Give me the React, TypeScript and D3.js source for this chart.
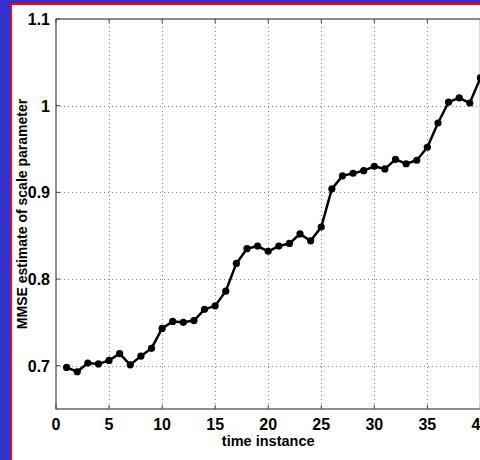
import React, { useEffect, useRef } from "react"
import * as d3 from "d3"

// time instances 1..40 and the MMSE estimates
const timeInstances = [
  1, 2, 3, 4, 5, 6, 7, 8, 9, 10, 11, 12, 13, 14, 15, 16, 17, 18, 19, 20,
  21, 22, 23, 24, 25, 26, 27, 28, 29, 30, 31, 32, 33, 34, 35, 36, 37, 38, 39, 40,
]
const mmseValues = [
  0.698, 0.693, 0.703, 0.702, 0.706, 0.714, 0.701, 0.711, 0.72, 0.743,
  0.751, 0.75, 0.752, 0.765, 0.769, 0.786, 0.818, 0.835, 0.838, 0.832,
  0.838, 0.841, 0.852, 0.844, 0.86, 0.904, 0.919, 0.922, 0.925, 0.93,
  0.927, 0.938, 0.933, 0.937, 0.952, 0.98, 1.004, 1.009, 1.003, 1.032,
]
const xTicks = [0, 5, 10, 15, 20, 25, 30, 35, 40]
const yTicks = [0.7, 0.8, 0.9, 1, 1.1]

const W = 480
const H = 460

export default function App() {
  const ref = useRef<SVGSVGElement>(null)

  useEffect(() => {
    const svg = d3.select(ref.current)
    svg.selectAll("*").remove()

    // frame: blue background, red border, white canvas
    svg.append("rect").attr("width", W).attr("height", H).attr("fill", "#3333cc")
    svg.append("rect")
      .attr("x", 11).attr("y", 4)
      .attr("width", W + 20).attr("height", H + 20)
      .attr("fill", "#ffffff")
      .attr("stroke", "#ff0000")
      .attr("stroke-width", 2)

    const left = 56, right = 480.4, top = 19, bottom = 409
    const x = d3.scaleLinear().domain([0, 40]).range([left, right])
    const y = d3.scaleLinear().domain([0.65, 1.1]).range([bottom, top])

    const font = "'Liberation Sans', Arial, Helvetica, sans-serif"

    // dotted grid
    const grid = svg.append("g")
      .attr("stroke", "#888")
      .attr("stroke-width", 1)
      .attr("stroke-dasharray", "1,3")
    grid.selectAll("line.gx")
      .data(xTicks.slice(1, -1))
      .enter().append("line")
      .attr("x1", d => Math.round(x(d)) + 0.5)
      .attr("x2", d => Math.round(x(d)) + 0.5)
      .attr("y1", top).attr("y2", bottom)
    grid.selectAll("line.gy")
      .data(yTicks.slice(0, -1))
      .enter().append("line")
      .attr("class", "gy")
      .attr("x1", left).attr("x2", right)
      .attr("y1", d => Math.round(y(d)) + 0.5)
      .attr("y2", d => Math.round(y(d)) + 0.5)

    // box
    svg.append("rect")
      .attr("x", left).attr("y", top)
      .attr("width", right - left).attr("height", bottom - top)
      .attr("fill", "none")
      .attr("stroke", "#444")
      .attr("stroke-width", 1.2)

    // inward tick marks
    const ticks = svg.append("g").attr("stroke", "#444").attr("stroke-width", 1)
    xTicks.forEach(t => {
      ticks.append("line").attr("x1", x(t)).attr("x2", x(t)).attr("y1", bottom).attr("y2", bottom - 4)
      ticks.append("line").attr("x1", x(t)).attr("x2", x(t)).attr("y1", top).attr("y2", top + 4)
    })
    yTicks.forEach(t => {
      ticks.append("line").attr("x1", left).attr("x2", left + 4).attr("y1", y(t)).attr("y2", y(t))
    })

    // tick labels
    svg.selectAll("text.xt")
      .data(xTicks)
      .enter().append("text")
      .attr("x", d => x(d))
      .attr("y", 430)
      .attr("text-anchor", "middle")
      .attr("font-family", font)
      .attr("font-weight", "bold")
      .attr("font-size", 16)
      .text(d => d)
    svg.selectAll("text.yt")
      .data(yTicks)
      .enter().append("text")
      .attr("x", 50)
      .attr("y", d => y(d) + 6)
      .attr("text-anchor", "end")
      .attr("font-family", font)
      .attr("font-weight", "bold")
      .attr("font-size", 16)
      .text(d => d)

    // axis titles
    svg.append("text")
      .attr("x", (left + right) / 2)
      .attr("y", 446)
      .attr("text-anchor", "middle")
      .attr("font-family", font)
      .attr("font-weight", "bold")
      .attr("font-size", 14.5)
      .text("time instance")
    svg.append("text")
      .attr("transform", `translate(27,${(top + bottom) / 2}) rotate(-90)`)
      .attr("text-anchor", "middle")
      .attr("font-family", font)
      .attr("font-weight", "bold")
      .attr("font-size", 14)
      .text("MMSE estimate of scale parameter")

    // series
    const pts = timeInstances.map((t, i) => [t, mmseValues[i]] as [number, number])
    const line = d3.line<[number, number]>().x(d => x(d[0])).y(d => y(d[1]))
    svg.append("path")
      .attr("d", line(pts))
      .attr("fill", "none")
      .attr("stroke", "#000")
      .attr("stroke-width", 2.5)
      .attr("stroke-linejoin", "round")
    svg.selectAll("circle")
      .data(pts)
      .enter().append("circle")
      .attr("cx", d => x(d[0]))
      .attr("cy", d => y(d[1]))
      .attr("r", 3.6)
      .attr("fill", "#000")
  }, [])

  return (
    <svg
      ref={ref}
      width={W}
      height={H}
      style={{ position: "absolute", left: 0, top: 0, display: "block" }}
    />
  )
}
